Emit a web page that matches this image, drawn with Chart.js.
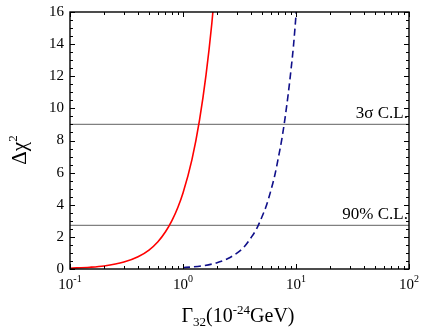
<!DOCTYPE html>
<html>
<head>
<meta charset="utf-8">
<script src="https://cdn.jsdelivr.net/npm/chart.js@4"></script>
<style>
  html, body { margin: 0; padding: 0; background: #fff; }
  canvas { display: block; }
</style>
</head>
<body>
<canvas id="chart" width="422" height="332"></canvas>
<script>
// values
const redGamma = [0.1, 0.15, 0.2, 0.3, 0.4, 0.5, 0.6, 0.7, 0.8, 0.9, 1.0, 1.2, 1.4, 1.6, 1.8, 1.95];
const redChi2 = [0.05, 0.11, 0.19, 0.43, 0.76, 1.18, 1.70, 2.32, 3.03, 3.83, 4.73, 6.81, 9.27, 12.1, 15.3, 18.0];

const blueGamma = [1.0, 1.5, 2.0, 2.5, 3.0, 3.5, 4.0, 4.5, 5.0, 5.5, 6.0, 6.5, 7.0, 7.5, 8.0, 8.5, 9.0, 9.5, 10.0, 10.3];
const blueChi2 = [0.08, 0.2, 0.39, 0.65, 0.99, 1.4, 1.95, 2.53, 3.25, 4.0, 4.9, 5.85, 6.98, 8.1, 9.4, 10.8, 12.3, 13.9, 15.8, 17.0];

const clLevels = [9, 2.71];
const clLabels = ['3σ C.L.', '90% C.L.'];

const xDecades = [0.1, 1, 10, 100];
const xExponents = ['-1', '0', '1', '2'];
const yTicks = [0, 2, 4, 6, 8, 10, 12, 14, 16];

const serif = '"Liberation Serif", "DejaVu Serif", serif';

function toPoints(xs, ys) {
    return xs.map(function(x, i) { return { x: x, y: ys[i] }; });
}

const datasets = [
    {
        data: toPoints(redGamma, redChi2),
        borderColor: '#ff0000',
        borderWidth: 1.6,
        pointRadius: 0,
        cubicInterpolationMode: 'monotone',
        order: 1
    },
    {
        data: toPoints(blueGamma, blueChi2),
        borderColor: '#10108a',
        borderWidth: 1.6,
        borderDash: [7, 4],
        pointRadius: 0,
        cubicInterpolationMode: 'monotone',
        order: 1
    }
];

clLevels.forEach(function(level) {
    datasets.push({
        data: [{ x: xDecades[0], y: level }, { x: xDecades[xDecades.length - 1], y: level }],
        borderColor: '#808080',
        borderWidth: 1.2,
        pointRadius: 0,
        order: 2
    });
});

// draws frame, inward ticks, labels and titles
const axesPlugin = {
    id: 'axesPlugin',
    afterDraw: function(chart) {
        const ctx = chart.ctx;
        const area = chart.chartArea;
        const xs = chart.scales.x;
        const ys = chart.scales.y;
        ctx.save();

        ctx.strokeStyle = '#000';
        ctx.lineWidth = 1.4;
        ctx.strokeRect(area.left, area.top, area.right - area.left, area.bottom - area.top);

        ctx.lineWidth = 1;
        // x ticks, top and bottom
        for (let d = 0; d < xDecades.length; d++) {
            for (let m = 1; m <= 9; m++) {
                const v = xDecades[d] * m;
                if (v > xDecades[xDecades.length - 1]) break;
                const px = Math.round(xs.getPixelForValue(v)) + 0.5;
                const len = m === 1 ? 5 : 3;
                ctx.beginPath();
                ctx.moveTo(px, area.bottom);
                ctx.lineTo(px, area.bottom - len);
                ctx.moveTo(px, area.top);
                ctx.lineTo(px, area.top + len);
                ctx.stroke();
            }
        }
        // y ticks, left and right
        for (let v = 0; v <= 16; v += 0.5) {
            const py = Math.round(ys.getPixelForValue(v)) + 0.5;
            const len = v % 2 === 0 ? 5 : 3;
            ctx.beginPath();
            ctx.moveTo(area.left, py);
            ctx.lineTo(area.left + len, py);
            ctx.moveTo(area.right, py);
            ctx.lineTo(area.right - len, py);
            ctx.stroke();
        }

        ctx.fillStyle = '#000';
        // y labels
        ctx.font = '15px ' + serif;
        ctx.textAlign = 'right';
        ctx.textBaseline = 'middle';
        yTicks.forEach(function(v) {
            ctx.fillText(String(v), area.left - 6, ys.getPixelForValue(v));
        });

        // x labels 10^n
        ctx.textAlign = 'left';
        ctx.textBaseline = 'alphabetic';
        xDecades.forEach(function(v, i) {
            ctx.font = '15px ' + serif;
            const wBase = ctx.measureText('10').width;
            ctx.font = '10px ' + serif;
            const wExp = ctx.measureText(xExponents[i]).width;
            const left = xs.getPixelForValue(v) - (wBase + wExp) / 2;
            const base = area.bottom + 20;
            ctx.font = '15px ' + serif;
            ctx.fillText('10', left, base);
            ctx.font = '10px ' + serif;
            ctx.fillText(xExponents[i], left + wBase, base - 7);
        });

        // C.L. labels
        ctx.font = '17px ' + serif;
        ctx.textAlign = 'right';
        clLevels.forEach(function(level, i) {
            ctx.fillText(clLabels[i], area.right - 1, ys.getPixelForValue(level) - 6);
        });

        // x title: Γ32(10^-24GeV)
        const parts = [
            { t: 'Γ', size: 20, dy: 0 },
            { t: '32', size: 13, dy: 4 },
            { t: '(10', size: 20, dy: 0 },
            { t: '-24', size: 13, dy: -8 },
            { t: 'GeV)', size: 20, dy: 0 }
        ];
        let total = 0;
        parts.forEach(function(p) {
            ctx.font = p.size + 'px ' + serif;
            p.w = ctx.measureText(p.t).width;
            total += p.w;
        });
        let cx = 238 - total / 2;
        ctx.textAlign = 'left';
        parts.forEach(function(p) {
            ctx.font = p.size + 'px ' + serif;
            ctx.fillText(p.t, cx, 322 + p.dy);
            cx += p.w;
        });

        // y title: Δχ²
        ctx.translate(26, 150);
        ctx.rotate(-Math.PI / 2);
        ctx.font = '21px ' + serif;
        const w1 = ctx.measureText('Δχ').width;
        ctx.font = '13px ' + serif;
        const w2 = ctx.measureText('2').width;
        const start = -(w1 + w2) / 2;
        ctx.font = '21px ' + serif;
        ctx.fillText('Δχ', start, 0);
        ctx.font = '13px ' + serif;
        ctx.fillText('2', start + w1, -9);

        ctx.restore();
    }
};

const chart = new Chart(document.getElementById('chart'), {
    type: 'line',
    data: { datasets: datasets },
    options: {
        responsive: false,
        animation: false,
        devicePixelRatio: 1,
        layout: { padding: { left: 70, top: 12, right: 13, bottom: 63 } },
        plugins: { legend: { display: false }, tooltip: { enabled: false } },
        scales: {
            x: { type: 'logarithmic', min: 0.1, max: 100, display: false },
            y: { type: 'linear', min: 0, max: 16, display: false }
        }
    },
    plugins: [axesPlugin]
});
</script>
</body>
</html>
